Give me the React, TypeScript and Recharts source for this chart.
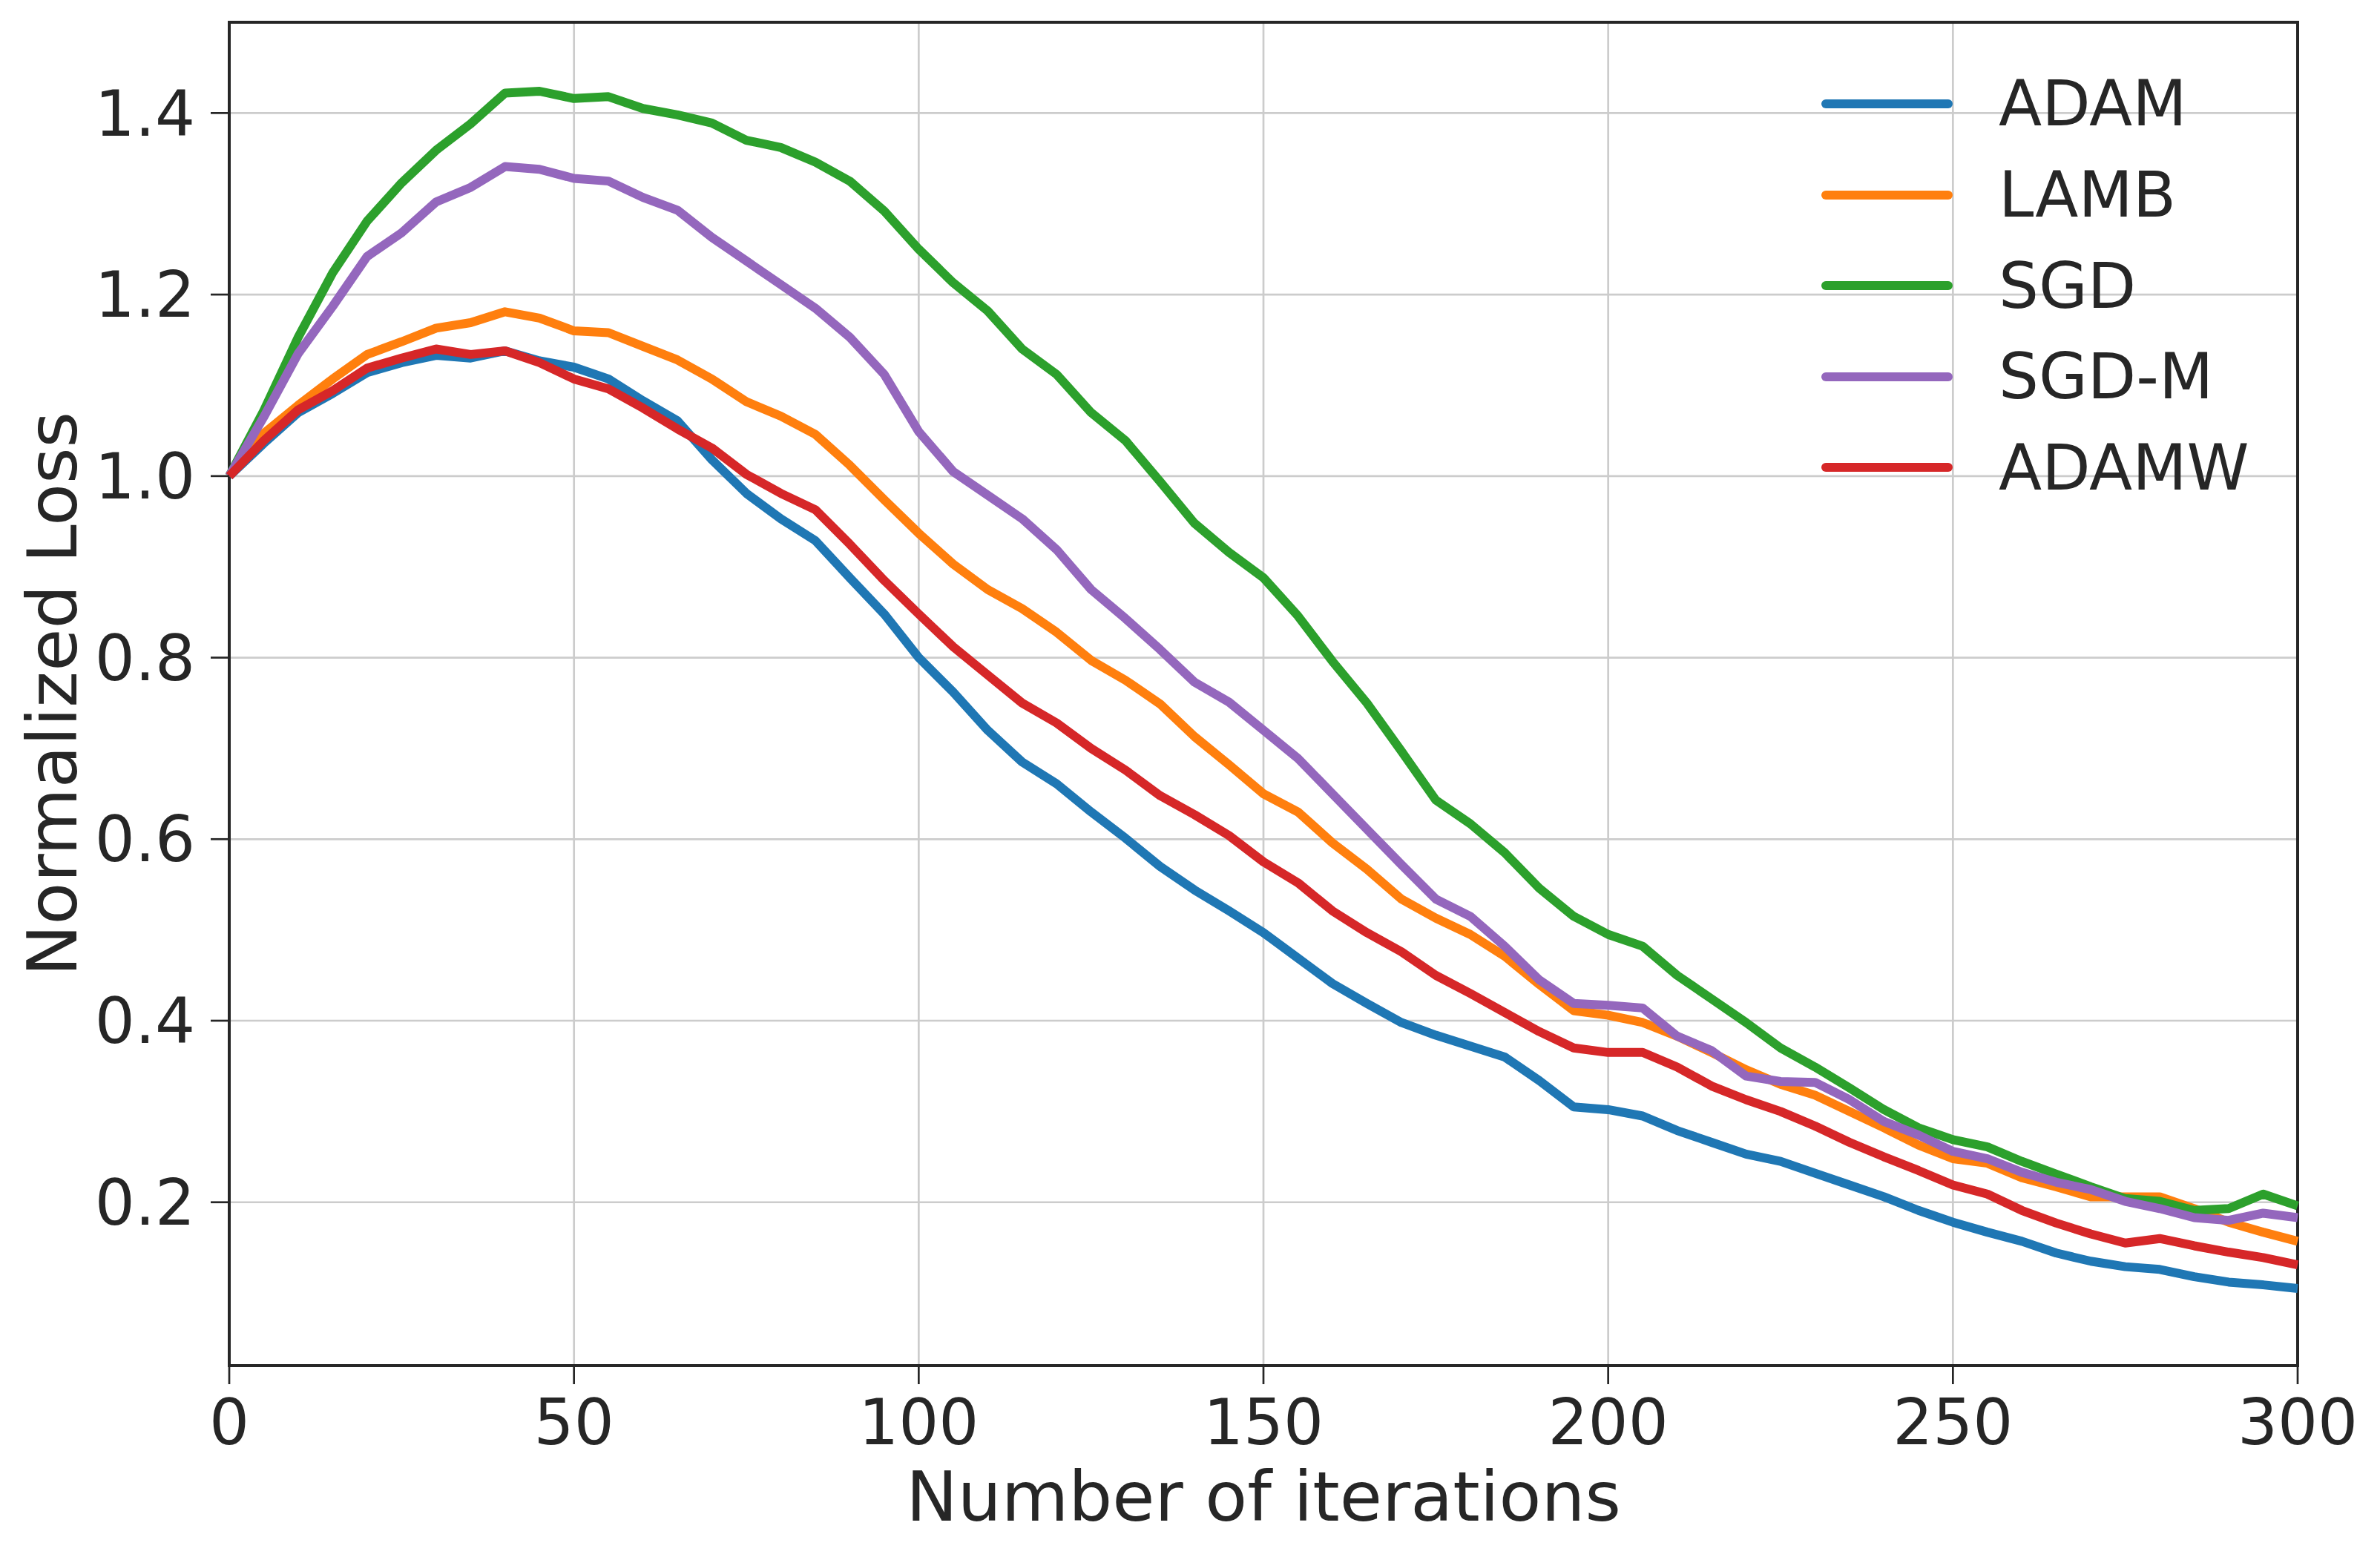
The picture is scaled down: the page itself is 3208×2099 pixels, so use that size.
import { LineChart, Line, XAxis, YAxis, CartesianGrid, Legend, ReferenceArea } from 'recharts';

const FONT = '"DejaVu Sans", sans-serif';
const INK = '#262626';

// iteration steps sampled from the plot
const ITERATIONS = [
  0, 5, 10, 15, 20, 25, 30, 35, 40, 45, 50, 55, 60, 65, 70, 75, 80, 85, 90, 95,
  100, 105, 110, 115, 120, 125, 130, 135, 140, 145, 150, 155, 160, 165, 170, 175, 180, 185, 190, 195,
  200, 205, 210, 215, 220, 225, 230, 235, 240, 245, 250, 255, 260, 265, 270, 275, 280, 285, 290, 295, 300,
];

const ADAM = [
  1.0, 1.036, 1.07, 1.091, 1.114, 1.125, 1.133, 1.13, 1.138, 1.127, 1.12, 1.107, 1.083, 1.061, 1.018, 0.981, 0.953, 0.929, 0.888, 0.848,
  0.8, 0.762, 0.72, 0.685, 0.661, 0.63, 0.601, 0.57, 0.544, 0.521, 0.497, 0.469, 0.441, 0.419, 0.398, 0.384, 0.372, 0.36, 0.334, 0.305,
  0.302, 0.295, 0.279, 0.266, 0.253, 0.245, 0.232, 0.219, 0.206, 0.191, 0.178, 0.167, 0.157, 0.144, 0.135, 0.129, 0.126, 0.118, 0.112, 0.109, 0.105,
];

const LAMB = [
  1.0, 1.047, 1.078, 1.107, 1.134, 1.148, 1.163, 1.169, 1.181, 1.174, 1.16, 1.158, 1.143, 1.128, 1.107, 1.082, 1.066, 1.046, 1.012, 0.974,
  0.937, 0.903, 0.875, 0.854, 0.828, 0.797, 0.775, 0.749, 0.713, 0.682, 0.65, 0.63, 0.596, 0.567, 0.534, 0.513, 0.495, 0.471, 0.44, 0.411,
  0.406, 0.398, 0.383, 0.365, 0.346, 0.33, 0.318, 0.3, 0.282, 0.263, 0.248, 0.243, 0.227, 0.217, 0.206, 0.206, 0.206, 0.193, 0.178, 0.167, 0.157,
];

const SGD = [
  1.0, 1.072, 1.153, 1.224, 1.281, 1.323, 1.359, 1.388, 1.422, 1.424, 1.416, 1.418, 1.405, 1.398, 1.389, 1.37, 1.362, 1.346, 1.325, 1.292,
  1.25, 1.213, 1.182, 1.14, 1.112, 1.07, 1.039, 0.994, 0.948, 0.916, 0.888, 0.846, 0.796, 0.75, 0.697, 0.643, 0.617, 0.585, 0.546, 0.515,
  0.495, 0.482, 0.45, 0.424, 0.398, 0.37, 0.349, 0.326, 0.302, 0.282, 0.269, 0.261, 0.245, 0.231, 0.217, 0.204, 0.201, 0.191, 0.193, 0.209, 0.196,
];

const SGD_M = [
  1.0, 1.065, 1.135, 1.187, 1.242, 1.268, 1.302, 1.318, 1.341, 1.338, 1.328, 1.325, 1.307, 1.293, 1.263, 1.237, 1.211, 1.185, 1.153, 1.112,
  1.049, 1.005, 0.979, 0.953, 0.919, 0.875, 0.843, 0.809, 0.773, 0.751, 0.72, 0.689, 0.65, 0.611, 0.572, 0.534, 0.515, 0.482, 0.445, 0.419,
  0.417, 0.414, 0.383, 0.367, 0.339, 0.333, 0.332, 0.313, 0.289, 0.274, 0.256, 0.248, 0.233, 0.222, 0.214, 0.201, 0.193, 0.183, 0.18, 0.188, 0.183,
];

const ADAMW = [
  1.0, 1.039, 1.073, 1.094, 1.119, 1.13, 1.14, 1.134, 1.138, 1.125, 1.107, 1.096, 1.075, 1.052, 1.031, 1.002, 0.981, 0.963, 0.925, 0.885,
  0.848, 0.812, 0.781, 0.75, 0.728, 0.7, 0.676, 0.648, 0.627, 0.604, 0.575, 0.552, 0.521, 0.497, 0.476, 0.45, 0.43, 0.409, 0.388, 0.37,
  0.365, 0.365, 0.349, 0.328, 0.313, 0.3, 0.284, 0.266, 0.25, 0.235, 0.219, 0.209, 0.191, 0.177, 0.165, 0.155, 0.16, 0.152, 0.145, 0.139, 0.131,
];

const SERIES = [
  { name: 'ADAM', color: '#1f77b4', values: ADAM },
  { name: 'LAMB', color: '#ff7f0e', values: LAMB },
  { name: 'SGD', color: '#2ca02c', values: SGD },
  { name: 'SGD-M', color: '#9467bd', values: SGD_M },
  { name: 'ADAMW', color: '#d62728', values: ADAMW },
];
const SERIES_ORDER = SERIES.map((s) => s.name);

const X_TICKS = [0, 50, 100, 150, 200, 250, 300];
const Y_TICKS = [0.2, 0.4, 0.6, 0.8, 1.0, 1.2, 1.4];
const Y_DOMAIN = [0.02, 1.5];

const LINE_W = 12;

const data = ITERATIONS.map((iter, i) => {
  const row: Record<string, number> = { iter };
  SERIES.forEach((s) => {
    row[s.name] = s.values[i];
  });
  return row;
});

function LegendBox({ payload }: any) {
  // recharts sorts legend items by name; put them back in plotting order
  const items = [...(payload || [])].sort(
    (a: any, b: any) => SERIES_ORDER.indexOf(a.value) - SERIES_ORDER.indexOf(b.value)
  );
  return (
    <div style={{ fontFamily: FONT, fontSize: 85, color: INK }}>
      {items.map((entry: any) => (
        <div key={entry.value} style={{ display: 'flex', alignItems: 'center', height: 122.6 }}>
          <svg width={200} height={24} style={{ display: 'block' }}>
            <line x1={21} x2={186} y1={12} y2={12} stroke={entry.color} strokeWidth={LINE_W} strokeLinecap="round" />
          </svg>
          <span style={{ marginLeft: 54, lineHeight: 1 }}>{entry.value}</span>
        </div>
      ))}
    </div>
  );
}

const tickStyle = { fontSize: 85, fill: INK, fontFamily: FONT };

export default function App() {
  return (
    <div style={{ position: 'absolute', left: 0, top: 0, width: 3208, height: 2099, background: '#fff' }}>
      <LineChart width={3208} height={2099} data={data} margin={{ top: 30, right: 111, left: 0, bottom: 0 }}>
        <CartesianGrid stroke="#cccccc" strokeWidth={2.7} />
        <XAxis
          dataKey="iter"
          type="number"
          domain={[0, 300]}
          ticks={X_TICKS}
          height={258}
          axisLine={false}
          tickSize={25}
          tickMargin={21}
          tickLine={{ stroke: INK, strokeWidth: 2.7 }}
          tick={tickStyle}
          label={{
            content: ({ viewBox }: any) => (
              <text
                x={viewBox.x + viewBox.width / 2}
                y={viewBox.y + 209}
                textAnchor="middle"
                fontSize={93}
                fontFamily={FONT}
                fill={INK}
              >
                Number of iterations
              </text>
            ),
          }}
        />
        <YAxis
          type="number"
          domain={Y_DOMAIN}
          ticks={Y_TICKS}
          allowDataOverflow
          width={309}
          axisLine={false}
          tickSize={25}
          tickMargin={21}
          tickLine={{ stroke: INK, strokeWidth: 2.7 }}
          tick={tickStyle}
          tickFormatter={(v: number) => v.toFixed(1)}
          label={{
            content: ({ viewBox }: any) => {
              const x = viewBox.x + 103;
              const y = viewBox.y + viewBox.height / 2;
              return (
                <text
                  x={x}
                  y={y}
                  transform={`rotate(-90, ${x}, ${y})`}
                  textAnchor="middle"
                  fontSize={93}
                  fontFamily={FONT}
                  fill={INK}
                >
                  Normalized Loss
                </text>
              );
            },
          }}
        />
        {SERIES.map((s) => (
          <Line
            key={s.name}
            dataKey={s.name}
            name={s.name}
            type="linear"
            stroke={s.color}
            strokeWidth={LINE_W}
            strokeLinejoin="round"
            dot={false}
            activeDot={false}
            isAnimationActive={false}
          />
        ))}
        <ReferenceArea
          x1={0}
          x2={300}
          y1={Y_DOMAIN[0]}
          y2={Y_DOMAIN[1]}
          fill="none"
          stroke={INK}
          strokeWidth={4}
          ifOverflow="visible"
        />
        <Legend
          layout="vertical"
          align="center"
          verticalAlign="middle"
          content={<LegendBox />}
          wrapperStyle={{ left: 2440, top: 78.7, width: 700, height: 620 }}
        />
      </LineChart>
    </div>
  );
}
